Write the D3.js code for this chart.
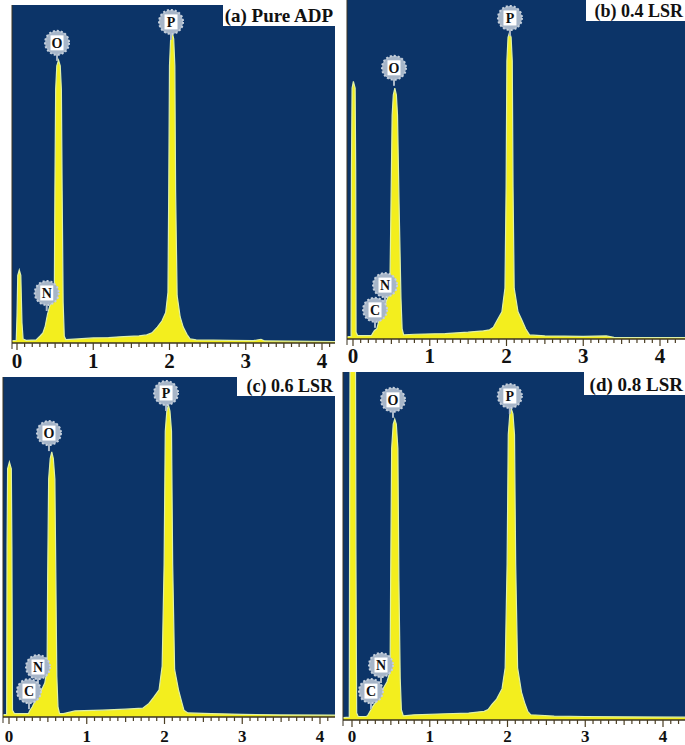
<!DOCTYPE html>
<html>
<head>
<meta charset="utf-8">
<script src="https://cdn.jsdelivr.net/npm/d3@7"></script>
<style>
  body { margin: 0; background: #fff; }
  svg { display: block; }
</style>
</head>
<body>
<script>
// spectra: [energy keV, counts as % of plot height]
const specA = [[-0.1,0.6],[-0.01,0.8],[0.0,8],[0.01,20],[0.03,21.6],[0.05,20],[0.065,6],[0.08,1.2],[0.12,0.8],[0.25,0.9],[0.3,2],[0.34,3],[0.37,5],[0.4,8.5],[0.43,11],[0.46,12.7],[0.48,13],[0.49,16],[0.497,45],[0.507,75],[0.522,82],[0.545,83.7],[0.567,82],[0.582,75],[0.592,45],[0.605,12],[0.62,2],[0.64,1],[0.8,1.2],[1.0,1.5],[1.2,1.6],[1.4,1.9],[1.6,2.1],[1.7,2.4],[1.77,3],[1.84,4.7],[1.9,6.5],[1.95,9],[1.98,15],[1.99,45],[2.0,82],[2.015,90],[2.035,92],[2.055,90],[2.07,82],[2.08,45],[2.1,14],[2.14,7.7],[2.18,4.7],[2.23,2.5],[2.27,1.2],[2.35,0.9],[2.8,0.8],[3.1,0.7],[3.2,1.1],[3.25,0.6],[4.4,0.4]];
const specB = [[-0.1,0.6],[-0.025,0.8],[-0.02,50],[-0.012,74],[0.005,76],[0.028,74],[0.035,50],[0.04,2],[0.06,1],[0.24,1],[0.26,1.8],[0.28,2.5],[0.31,3],[0.35,6.5],[0.4,9],[0.44,11.5],[0.48,14],[0.495,40],[0.51,66],[0.525,72],[0.545,74],[0.565,72],[0.58,66],[0.6,40],[0.625,12],[0.64,3],[0.66,1.2],[0.8,1.4],[1.2,1.6],[1.5,2],[1.7,2.4],[1.78,2.7],[1.83,3.5],[1.88,5.6],[1.94,8],[1.98,15],[1.995,45],[2.005,82],[2.02,89],[2.04,90.5],[2.06,89],[2.075,82],[2.085,45],[2.1,15],[2.15,8],[2.2,5.6],[2.25,3],[2.3,1.2],[2.5,0.9],[3.0,0.8],[3.3,0.9],[3.4,0.5],[4.4,0.4]];
const specC = [[-0.1,0.6],[-0.03,0.8],[-0.025,50],[-0.018,73],[0.005,75],[0.03,73],[0.037,50],[0.045,2],[0.07,1],[0.25,1],[0.27,2],[0.3,3],[0.33,4.5],[0.38,6],[0.42,8],[0.46,10],[0.49,14],[0.497,40],[0.51,70],[0.53,76],[0.55,78],[0.57,76],[0.59,70],[0.603,40],[0.615,12],[0.63,3],[0.65,1],[0.7,1],[0.85,1.8],[1.2,2],[1.5,2.3],[1.72,2.6],[1.8,4],[1.86,5.8],[1.93,8],[1.97,15],[1.995,45],[2.01,84],[2.03,90],[2.05,91.8],[2.07,90],[2.09,84],[2.105,45],[2.13,14],[2.18,8],[2.22,4.5],[2.25,2],[2.3,1.2],[2.6,1],[3.0,0.8],[3.5,0.6],[4.4,0.5]];
const specD = [[-0.15,0.6],[-0.035,0.8],[-0.03,60],[-0.025,104],[0.045,104],[0.05,50],[0.06,2],[0.08,1],[0.18,1],[0.2,1.2],[0.27,4],[0.32,5.5],[0.4,9],[0.45,11],[0.49,14],[0.497,40],[0.51,78],[0.53,85],[0.55,86.5],[0.57,85],[0.59,78],[0.603,40],[0.62,12],[0.635,3],[0.66,1.2],[0.8,1.5],[1.2,1.8],[1.5,2],[1.7,2.5],[1.75,3],[1.8,4.5],[1.86,6],[1.93,9],[1.97,15],[1.995,45],[2.01,82],[2.03,88],[2.05,89.4],[2.07,88],[2.09,82],[2.105,45],[2.13,15],[2.18,8],[2.22,5],[2.26,2.5],[2.3,1.5],[2.6,1.1],[3.0,1],[3.5,0.9],[4.4,0.8]];

// element badges: [element, energy, height %]
const marksA = [["O",0.525,88.8],["P",2.02,95],["N",0.39,14.8]];
const marksB = [["O",0.534,80],["P",2.045,94.7],["N",0.417,15.9],["C",0.287,8.6]];
const marksC = [["O",0.514,83.5],["P",2.02,95.3],["N",0.373,14.7],["C",0.257,7.6]];
const marksD = [["O",0.527,92],["P",2.03,93.1],["N",0.373,15.8],["C",0.244,8.3]];

const titles = ["(a) Pure ADP", "(b) 0.4 LSR", "(c) 0.6 LSR", "(d) 0.8 LSR"];
const tickValues = [0, 1, 2, 3, 4];

// panel geometry in page pixels
const panels = [
  {spec: specA, marks: marksA, left: 12, right: 335, top: 5, axis: 343, x0: 17, x4: 322, fs: 21, lab: 368, tw: 112, th: 21, tfs: 19},
  {spec: specB, marks: marksB, left: 347, right: 685, top: 0, axis: 339, x0: 353, x4: 660, fs: 21, lab: 363, tw: 99, th: 21, tfs: 18},
  {spec: specC, marks: marksC, left: 3, right: 335, top: 377, axis: 717, x0: 9, x4: 320, fs: 17, lab: 742, tw: 98, th: 19, tfs: 18},
  {spec: specD, marks: marksD, left: 343, right: 685, top: 372, axis: 720, x0: 352, x4: 663, fs: 17, lab: 742, tw: 101, th: 23, tfs: 19}
];

const w = 685, h = 745;
const svg = d3.select("body").append("svg").attr("width", w).attr("height", h);

panels.forEach((p, i) => {
  const x = d3.scaleLinear().domain([0, 4]).range([p.x0, p.x4]);
  const y = d3.scaleLinear().domain([0, 100]).range([p.axis, p.top]);
  const g = svg.append("g");

  svg.append("clipPath").attr("id", "clip" + i)
    .append("rect")
    .attr("x", p.left).attr("y", p.top)
    .attr("width", p.right - p.left).attr("height", p.axis - p.top);

  g.append("rect")
    .attr("x", p.left).attr("y", p.top)
    .attr("width", p.right - p.left).attr("height", p.axis - p.top)
    .attr("fill", "#0c3468");

  const plot = g.append("g").attr("clip-path", "url(#clip" + i + ")");

  const area = d3.area().x(d => x(d[0])).y0(y(0)).y1(d => y(d[1]));
  const line = d3.line().x(d => x(d[0])).y(d => y(d[1]));

  plot.append("path").datum(p.spec)
    .attr("d", area)
    .attr("fill", "#f3ee1e");
  plot.append("path").datum(p.spec)
    .attr("d", line)
    .attr("fill", "none")
    .attr("stroke", "#dff0a8")
    .attr("stroke-width", 1.2);

  // axis line and ticks
  g.append("line")
    .attr("x1", p.left).attr("x2", p.right)
    .attr("y1", p.axis).attr("y2", p.axis)
    .attr("stroke", "#3a3320").attr("stroke-width", 1.5);
  g.append("line")
    .attr("x1", p.left).attr("x2", p.left)
    .attr("y1", p.top).attr("y2", p.axis + 6)
    .attr("stroke", "#3a3320").attr("stroke-width", 1);

  const minor = d3.range(0, 43).map(k => k / 10).filter(v => x(v) <= p.right);
  g.selectAll(".tk").data(minor).enter().append("line")
    .attr("x1", d => x(d)).attr("x2", d => x(d))
    .attr("y1", p.axis)
    .attr("y2", (d, k) => p.axis + (k % 10 === 0 ? 7 : (k % 5 === 0 ? 5 : 4)))
    .attr("stroke", "#4a3d22").attr("stroke-width", 1.2);

  g.selectAll(".tl").data(tickValues).enter().append("text")
    .attr("x", d => x(d)).attr("y", p.lab)
    .attr("text-anchor", "middle")
    .attr("font-family", "Liberation Serif, Times New Roman, serif")
    .attr("font-weight", "bold")
    .attr("font-size", p.fs)
    .attr("fill", "#111")
    .text(d => d);

  // element badges
  p.marks.forEach(m => {
    const cx = x(m[1]), cy = y(m[2]);
    const b = plot.append("g");
    b.append("line")
      .attr("x1", cx).attr("x2", cx)
      .attr("y1", cy).attr("y2", cy + 18)
      .attr("stroke", "#aab8c8").attr("stroke-width", 2);
    b.append("circle")
      .attr("cx", cx).attr("cy", cy).attr("r", 12)
      .attr("fill", "#a6b5c8")
      .attr("stroke", "#c6d0dc").attr("stroke-width", 2)
      .attr("stroke-dasharray", "2,2");
    b.append("rect")
      .attr("x", cx - 6.5).attr("y", cy - 7.5)
      .attr("width", 13).attr("height", 15)
      .attr("fill", "#fff");
    b.append("text")
      .attr("x", cx).attr("y", cy + 5)
      .attr("text-anchor", "middle")
      .attr("font-family", "Liberation Serif, Times New Roman, serif")
      .attr("font-weight", "bold")
      .attr("font-size", 14)
      .attr("fill", "#111")
      .text(m[0]);
  });

  // title box
  g.append("rect")
    .attr("x", p.right - p.tw).attr("y", p.top)
    .attr("width", p.tw).attr("height", p.th)
    .attr("fill", "#fff");
  g.append("text")
    .attr("x", p.right - 2).attr("y", p.top + p.th - 4)
    .attr("text-anchor", "end")
    .attr("font-family", "Liberation Serif, Times New Roman, serif")
    .attr("font-weight", "bold")
    .attr("font-size", p.tfs)
    .attr("fill", "#111")
    .text(titles[i]);
});
</script>
</body>
</html>
